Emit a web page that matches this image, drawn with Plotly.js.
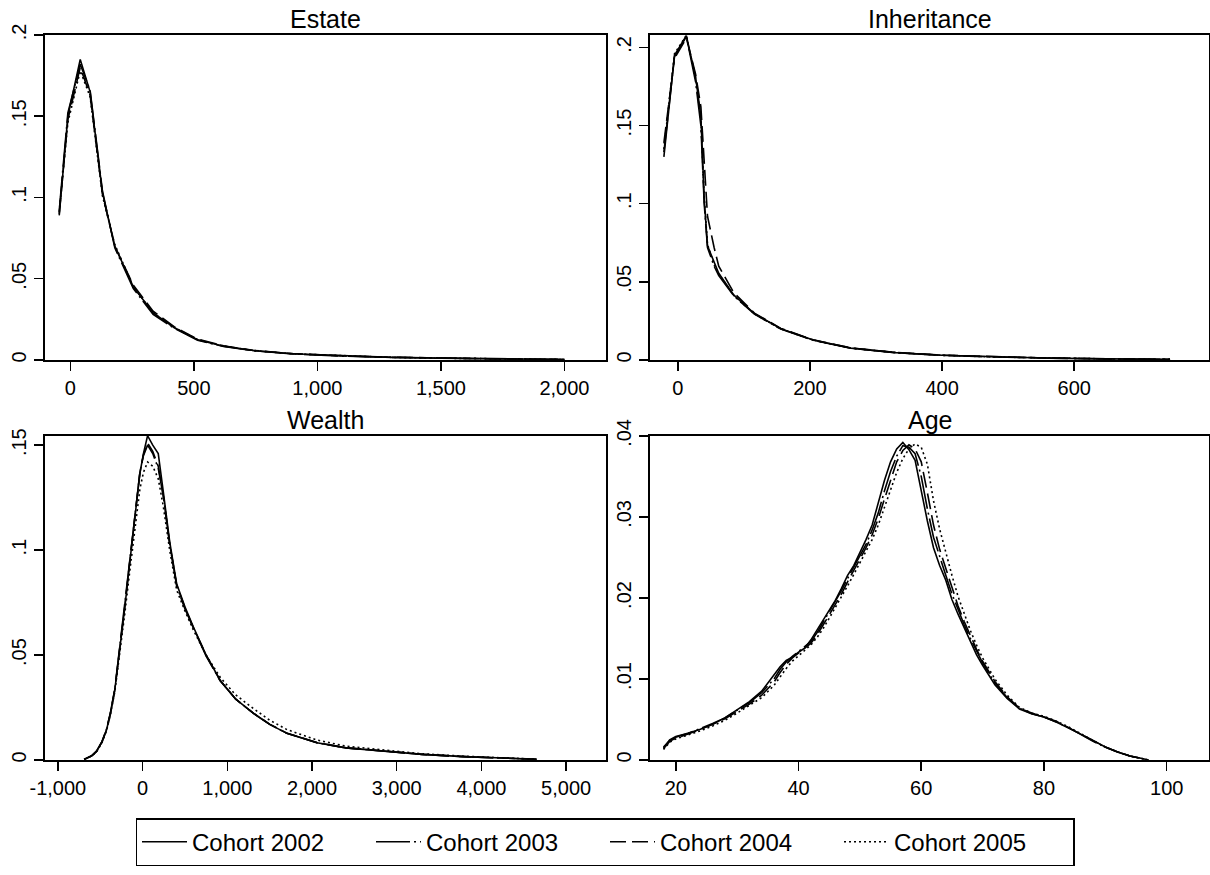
<!DOCTYPE html>
<html>
<head>
<meta charset="utf-8">
<script src="https://cdn.plot.ly/plotly-3.0.1.min.js"></script>
<style>html,body{margin:0;padding:0;background:#fff;}#chart{width:1210px;height:875px;}</style>
</head>
<body>
<div id="chart"></div>
<script>
// ---------- data ----------
var cohorts = ["Cohort 2002", "Cohort 2003", "Cohort 2004", "Cohort 2005"];
var panelTitles = ["Estate", "Inheritance", "Wealth", "Age"];

// Estate
var estateX = [-45, -10, 40, 80, 130, 180, 255, 335, 420, 515, 620, 740, 900, 1100, 1300, 1500, 1700, 1900, 2000];
var estate2002 = [0.089, 0.150, 0.185, 0.165, 0.103, 0.070, 0.045, 0.029, 0.020, 0.0125, 0.0085, 0.0058, 0.0038, 0.0025, 0.0016, 0.0011, 0.0007, 0.0004, 0.0003];
var estate2003 = [0.092, 0.152, 0.182, 0.166, 0.104, 0.069, 0.044, 0.028, 0.0195, 0.0122, 0.0083, 0.0057, 0.0037, 0.0024, 0.0016, 0.0011, 0.0007, 0.0004, 0.0003];
var estate2004 = [0.090, 0.148, 0.180, 0.163, 0.102, 0.070, 0.046, 0.030, 0.0205, 0.0128, 0.0087, 0.0059, 0.0039, 0.0025, 0.0017, 0.0011, 0.0007, 0.0004, 0.0003];
var estate2005 = [0.091, 0.146, 0.178, 0.162, 0.101, 0.071, 0.045, 0.029, 0.0200, 0.0126, 0.0086, 0.0058, 0.0038, 0.0025, 0.0016, 0.0011, 0.0007, 0.0004, 0.0003];

// Inheritance
var inherX = [-21, -5, 13, 27, 35, 40, 45, 55, 62, 85, 116, 156, 205, 262, 330, 400, 480, 560, 650, 745];
var inher2002 = [0.130, 0.195, 0.2075, 0.181, 0.156, 0.103, 0.073, 0.062, 0.0555, 0.0415, 0.0297, 0.020, 0.0128, 0.0076, 0.0047, 0.0030, 0.0019, 0.0012, 0.0007, 0.0004];
var inher2003 = [0.133, 0.194, 0.207, 0.178, 0.150, 0.100, 0.072, 0.060, 0.054, 0.041, 0.0293, 0.0198, 0.0126, 0.0075, 0.0046, 0.0030, 0.0019, 0.0012, 0.0007, 0.0004];
var inher2004 = [0.139, 0.193, 0.206, 0.183, 0.162, 0.125, 0.092, 0.072, 0.060, 0.043, 0.030, 0.0202, 0.0129, 0.0077, 0.0048, 0.0031, 0.0020, 0.0012, 0.0007, 0.0004];
var inher2005 = [0.135, 0.196, 0.2078, 0.180, 0.154, 0.104, 0.074, 0.061, 0.055, 0.0412, 0.0295, 0.0199, 0.0127, 0.0076, 0.0047, 0.0030, 0.0019, 0.0012, 0.0007, 0.0004];

// Wealth
var wealthX = [-690, -600, -545, -480, -426, -380, -328, -270, -209, -160, -111, -70, -32, 10, 59, 120, 185, 244, 320, 402, 500, 599, 750, 915, 1100, 1309, 1500, 1704, 2059, 2400, 2877, 3300, 3790, 4200, 4650];
var wealth2002 = [0.0003, 0.002, 0.004, 0.0085, 0.0143, 0.022, 0.0333, 0.052, 0.073, 0.091, 0.108, 0.123, 0.1365, 0.146, 0.1545, 0.150, 0.146, 0.128, 0.104, 0.084, 0.073, 0.0635, 0.050, 0.038, 0.029, 0.0222, 0.017, 0.0127, 0.0082, 0.0058, 0.004, 0.0027, 0.0016, 0.001, 0.0004];
var wealth2003 = [0.0003, 0.0021, 0.0042, 0.0088, 0.0146, 0.0225, 0.0338, 0.053, 0.074, 0.092, 0.109, 0.124, 0.137, 0.145, 0.150, 0.146, 0.139, 0.126, 0.103, 0.083, 0.072, 0.063, 0.0495, 0.0378, 0.029, 0.0222, 0.017, 0.0127, 0.0082, 0.0058, 0.004, 0.0027, 0.0016, 0.001, 0.0004];
var wealth2004 = [0.0003, 0.002, 0.0041, 0.0086, 0.0144, 0.0222, 0.0335, 0.0525, 0.0735, 0.0915, 0.1085, 0.1235, 0.1368, 0.1455, 0.151, 0.147, 0.140, 0.126, 0.103, 0.0835, 0.0725, 0.063, 0.050, 0.038, 0.029, 0.0223, 0.0171, 0.0128, 0.0083, 0.0058, 0.004, 0.0027, 0.0016, 0.001, 0.0004];
var wealth2005 = [0.0003, 0.0019, 0.0038, 0.0082, 0.0139, 0.0215, 0.0325, 0.050, 0.070, 0.087, 0.103, 0.117, 0.129, 0.137, 0.142, 0.140, 0.134, 0.121, 0.100, 0.081, 0.071, 0.062, 0.050, 0.0395, 0.031, 0.0245, 0.019, 0.0145, 0.0095, 0.0066, 0.0045, 0.003, 0.0018, 0.0011, 0.0004];

// Age
var ageX = [18, 19, 20, 22, 24, 26, 28, 30, 32, 34, 36, 37, 38, 39, 40, 41, 42, 43, 44, 45, 46, 47, 48, 49, 50, 51, 52, 53, 54, 55, 56, 57, 58, 59, 60, 61, 62, 63, 64, 65, 66, 67, 68, 69, 70, 72, 74, 76, 78, 80, 82, 84, 86, 88, 90, 92, 94, 96, 97];
var age2002 = [0.0015, 0.0025, 0.0029, 0.0033, 0.0038, 0.0044, 0.0052, 0.0062, 0.0072, 0.0085, 0.0105, 0.0115, 0.0123, 0.0127, 0.0133, 0.0138, 0.0148, 0.0160, 0.0172, 0.0185, 0.0197, 0.0212, 0.0228, 0.0240, 0.0255, 0.0272, 0.0290, 0.0318, 0.0345, 0.0368, 0.0384, 0.0392, 0.0383, 0.0370, 0.0330, 0.0295, 0.0262, 0.0240, 0.0222, 0.0198, 0.0180, 0.0163, 0.0146, 0.0130, 0.0117, 0.0093, 0.0076, 0.0063, 0.0057, 0.0053, 0.0047, 0.0040, 0.0032, 0.0024, 0.0016, 0.0010, 0.0005, 0.0002, 0.0000];
var age2003 = [0.0016, 0.0024, 0.0028, 0.0033, 0.0039, 0.0045, 0.0052, 0.0061, 0.0071, 0.0083, 0.0100, 0.0112, 0.0121, 0.0128, 0.0134, 0.0139, 0.0146, 0.0157, 0.0170, 0.0183, 0.0195, 0.0209, 0.0224, 0.0238, 0.0252, 0.0266, 0.0284, 0.0305, 0.0332, 0.0356, 0.0375, 0.0388, 0.0386, 0.0378, 0.0350, 0.0310, 0.0275, 0.0250, 0.0228, 0.0205, 0.0185, 0.0167, 0.0150, 0.0134, 0.0120, 0.0095, 0.0077, 0.0064, 0.0057, 0.0053, 0.0047, 0.0040, 0.0031, 0.0023, 0.0016, 0.0010, 0.0005, 0.0002, 0.0000];
var age2004 = [0.0014, 0.0023, 0.0027, 0.0032, 0.0038, 0.0044, 0.0051, 0.0060, 0.0069, 0.0080, 0.0096, 0.0108, 0.0118, 0.0126, 0.0132, 0.0138, 0.0144, 0.0154, 0.0166, 0.0179, 0.0192, 0.0205, 0.0220, 0.0234, 0.0248, 0.0262, 0.0278, 0.0298, 0.0322, 0.0346, 0.0368, 0.0382, 0.0389, 0.0384, 0.0368, 0.0330, 0.0290, 0.0260, 0.0236, 0.0212, 0.0190, 0.0171, 0.0153, 0.0137, 0.0122, 0.0097, 0.0078, 0.0064, 0.0058, 0.0053, 0.0048, 0.0040, 0.0032, 0.0024, 0.0016, 0.0010, 0.0005, 0.0002, 0.0000];
var age2005 = [0.0013, 0.0022, 0.0026, 0.0031, 0.0036, 0.0042, 0.0049, 0.0058, 0.0067, 0.0077, 0.0092, 0.0103, 0.0113, 0.0122, 0.0129, 0.0135, 0.0142, 0.0151, 0.0162, 0.0175, 0.0188, 0.0201, 0.0215, 0.0229, 0.0243, 0.0257, 0.0272, 0.0290, 0.0312, 0.0334, 0.0355, 0.0372, 0.0384, 0.0390, 0.0386, 0.0365, 0.0320, 0.0285, 0.0255, 0.0228, 0.0202, 0.0180, 0.0160, 0.0142, 0.0126, 0.0100, 0.0080, 0.0065, 0.0058, 0.0054, 0.0048, 0.0041, 0.0032, 0.0024, 0.0016, 0.0010, 0.0005, 0.0002, 0.0000];

// tick labels
var estateXTicks = [0, 500, 1000, 1500, 2000];
var estateXLabels = ["0", "500", "1,000", "1,500", "2,000"];
var estateYTicks = [0, 0.05, 0.1, 0.15, 0.2];
var estateYLabels = ["0", ".05", ".1", ".15", ".2"];
var inherXTicks = [0, 200, 400, 600];
var inherXLabels = ["0", "200", "400", "600"];
var inherYTicks = [0, 0.05, 0.1, 0.15, 0.2];
var inherYLabels = ["0", ".05", ".1", ".15", ".2"];
var wealthXTicks = [-1000, 0, 1000, 2000, 3000, 4000, 5000];
var wealthXLabels = ["-1,000", "0", "1,000", "2,000", "3,000", "4,000", "5,000"];
var wealthYTicks = [0, 0.05, 0.1, 0.15];
var wealthYLabels = ["0", ".05", ".1", ".15"];
var ageXTicks = [20, 40, 60, 80, 100];
var ageXLabels = ["20", "40", "60", "80", "100"];
var ageYTicks = [0, 0.01, 0.02, 0.03, 0.04];
var ageYLabels = ["0", ".01", ".02", ".03", ".04"];

// ---------- build ----------
var FONT = "Liberation Sans, Arial, sans-serif";
var dashes = ["solid", "34px,4px,2px,4px", "16px,6px", "2px,3px"];
var LW = 1.6;

var panels = [
  {x: estateX, ys: [estate2002, estate2003, estate2004, estate2005], xa: "x", ya: "y"},
  {x: inherX, ys: [inher2002, inher2003, inher2004, inher2005], xa: "x2", ya: "y2"},
  {x: wealthX, ys: [wealth2002, wealth2003, wealth2004, wealth2005], xa: "x3", ya: "y3"},
  {x: ageX, ys: [age2002, age2003, age2004, age2005], xa: "x4", ya: "y4"}
];

var traces = [];
panels.forEach(function (p, pi) {
  p.ys.forEach(function (yArr, si) {
    traces.push({
      type: "scatter", mode: "lines",
      x: p.x, y: yArr,
      xaxis: p.xa, yaxis: p.ya,
      name: cohorts[si],
      legendgroup: cohorts[si],
      showlegend: pi === 0,
      line: {color: "#000", width: LW, dash: dashes[si]},
      hoverinfo: "skip"
    });
  });
});

function xax(domain, range, tv, tt, anchor) {
  return {
    domain: domain, range: range, anchor: anchor,
    tickmode: "array", tickvals: tv, ticktext: tt,
    ticks: "outside", ticklen: 9, tickwidth: 1.5, tickcolor: "#000",
    showline: true, mirror: true, linecolor: "#000", linewidth: 1.6,
    showgrid: false, zeroline: false,
    tickfont: {family: FONT, size: 20, color: "#000"}
  };
}
function yax(domain, range, tv, tt, anchor) {
  return {
    domain: domain, range: range, anchor: anchor,
    tickmode: "array", tickvals: tv, ticktext: tt, tickangle: -90,
    ticks: "outside", ticklen: 9, tickwidth: 1.5, tickcolor: "#000",
    showline: true, mirror: true, linecolor: "#000", linewidth: 1.6,
    showgrid: false, zeroline: false,
    tickfont: {family: FONT, size: 20, color: "#000"}
  };
}

var dL = [0.0369, 0.5008], dR = [0.5372, 0.9992];
var dT = [0.5886, 0.9600], dB = [0.1314, 0.5018];

function titleAnn(text, xd, yd) {
  return {
    text: text, xref: "paper", yref: "paper",
    x: (xd[0] + xd[1]) / 2, y: yd[1], xanchor: "center", yanchor: "bottom",
    yshift: 0, showarrow: false,
    font: {family: FONT, size: 25, color: "#000"}
  };
}

var layout = {
  width: 1210, height: 875,
  margin: {l: 0, r: 0, t: 0, b: 0},
  paper_bgcolor: "#fff", plot_bgcolor: "#fff",
  font: {family: FONT, color: "#000"},
  xaxis: xax(dL, [-104, 2168], estateXTicks, estateXLabels, "y"),
  yaxis: yax(dT, [0, 0.2], estateYTicks, estateYLabels, "x"),
  xaxis2: xax(dR, [-42, 804], inherXTicks, inherXLabels, "y2"),
  yaxis2: yax(dT, [0, 0.208], inherYTicks, inherYLabels, "x2"),
  xaxis3: xax(dL, [-1156, 5470], wealthXTicks, wealthXLabels, "y3"),
  yaxis3: yax(dB, [0, 0.1544], wealthYTicks, wealthYLabels, "x3"),
  xaxis4: xax(dR, [15.8, 106.9], ageXTicks, ageXLabels, "y4"),
  yaxis4: yax(dB, [0, 0.04], ageYTicks, ageYLabels, "x4"),
  annotations: [
    titleAnn(panelTitles[0], dL, dT),
    titleAnn(panelTitles[1], dR, dT),
    titleAnn(panelTitles[2], dL, dB),
    titleAnn(panelTitles[3], dR, dB)
  ],
  showlegend: true,
  legend: {
    orientation: "h", x: 0.5, xanchor: "center", y: 0.065, yanchor: "top",
    bordercolor: "#000", borderwidth: 1.5, bgcolor: "#fff",
    font: {family: FONT, size: 24, color: "#000"},
    itemwidth: 45, entrywidth: 174, entrywidthmode: "pixels",
    traceorder: "normal"
  }
};

Plotly.newPlot("chart", traces, layout, {staticPlot: true, displayModeBar: false});
</script>
</body>
</html>
